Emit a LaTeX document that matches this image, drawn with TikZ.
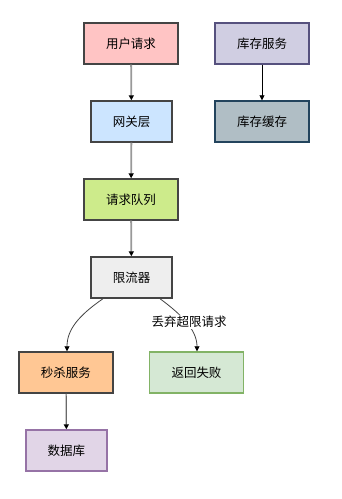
\documentclass[tikz,border=0pt]{standalone}
\usepackage{fontspec}
\newfontfamily\cjk{Noto Sans CJK SC}
\usetikzlibrary{arrows.meta}
\definecolor{fA}{HTML}{FFC4C4}
\definecolor{fB}{HTML}{D0CEE2}\definecolor{dB}{HTML}{56517E}
\definecolor{fC}{HTML}{CCE5FF}
\definecolor{fD}{HTML}{B0BEC5}\definecolor{dD}{HTML}{23445D}
\definecolor{fE}{HTML}{CDEB8B}
\definecolor{fF}{HTML}{EEEEEE}
\definecolor{fG}{HTML}{FFC794}
\definecolor{fH}{HTML}{D5E8D4}\definecolor{dH}{HTML}{82B366}
\definecolor{fI}{HTML}{E1D5E7}\definecolor{dI}{HTML}{9673A6}
\definecolor{dk}{HTML}{444444}
\definecolor{ln}{HTML}{999999}
\tikzset{
  box/.style={draw=dk, line width=1.4pt, minimum height=41pt, inner sep=0pt, font=\cjk\fontsize{12.5}{14}\selectfont},
  wide/.style={box, minimum width=94pt},
  narrow/.style={box, minimum width=81pt},
  tip/.style={-{Triangle[length=5pt,width=5pt,color=black]}},
  grayarrow/.style={tip, draw=ln, line width=1.8pt},
  thinarrow/.style={tip, draw=black, line width=0.8pt},
  curvearrow/.style={tip, draw=dk, line width=0.8pt},
}
\begin{document}
\begin{tikzpicture}[x=1pt,y=-1pt]
\useasboundingbox[fill=white] (0,0) rectangle (341,499);
\node[wide, fill=fA] (req) at (131,43.5) {用户请求};
\node[wide, fill=fB, draw=dB] (inv) at (262,43.5) {库存服务};
\node[narrow, fill=fC] (gw) at (131.5,121.5) {网关层};
\node[wide, fill=fD, draw=dD] (cache) at (262,121.5) {库存缓存};
\node[wide, fill=fE] (queue) at (131,199.5) {请求队列};
\node[narrow, fill=fF] (lim) at (131.5,277.5) {限流器};
\node[wide, fill=fG] (sk) at (66,372.5) {秒杀服务};
\node[wide, fill=fH, draw=dH] (fail) at (196.5,372.5) {返回失败};
\node[narrow, fill=fI, draw=dI] (db) at (66.5,450.5) {数据库};
\coordinate (l1) at (103,298.7);
\coordinate (l2) at (160,298.7);
\coordinate (s1) at (67,351.3);
\coordinate (f1) at (197,351.3);
\draw[grayarrow] (req) -- (gw);
\draw[grayarrow] (gw) -- (queue);
\draw[grayarrow] (queue) -- (lim);
\draw[thinarrow] (inv) -- (cache);
\draw[grayarrow, draw=dk!80, line width=1.2pt] (sk) -- (db);
\draw[curvearrow] (l1) .. controls (78,316) and (67,330) .. (s1);
\draw[curvearrow] (l2) .. controls (182,315) and (197,330) .. (f1);
\node[fill=white, inner sep=1pt, font=\cjk\fontsize{12.5}{14}\selectfont] (lab) at (189,322) {丢弃超限请求};
\end{tikzpicture}
\end{document}
